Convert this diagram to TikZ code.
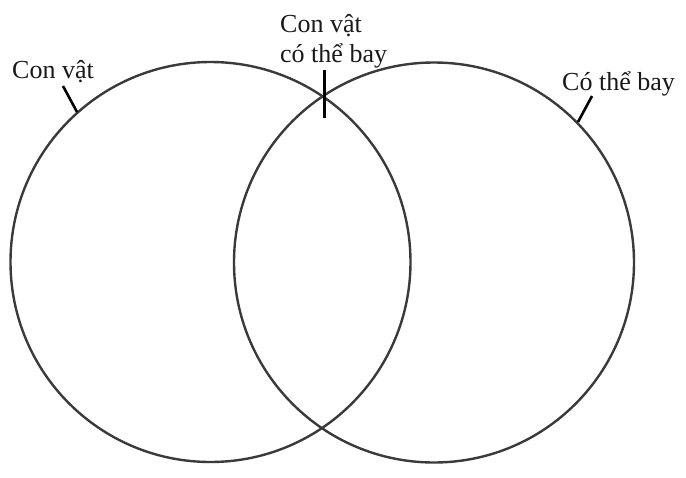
\documentclass[tikz,border=0pt]{standalone}
\usepackage{fontspec}
\setmainfont{Liberation Serif}
\definecolor{ring}{HTML}{3A3A3A}
\tikzset{
  vennring/.style={draw=ring, line width=2.4pt},
  tickline/.style={draw=black, line width=2.6pt},
  lbl/.style={inner sep=0pt, anchor=base west, font=\fontsize{26}{30}\selectfont, text=black!90}
}
\begin{document}
\begin{tikzpicture}[x=1pt,y=-1pt]
\useasboundingbox (0,0) rectangle (686,477);
% circles
\draw[vennring] (210.5,262) circle[radius=200];
\draw[vennring] (434,262.5) circle[radius=200];
% labels
\node[lbl] (animal) at (12,78) {Con vật};
\node[lbl] (both1) at (280,32) {Con vật};
\node[lbl] (both2) at (280,62) {có thể bay};
\node[lbl] (fly) at (562,90) {Có thể bay};
% ticks
\coordinate (la) at (63,86);
\coordinate (lb) at (77,112);
\coordinate (ma) at (324.5,70);
\coordinate (mb) at (324.5,118);
\coordinate (ra) at (592,96);
\coordinate (rb) at (578,122);
\draw[tickline] (la) -- (lb);
\draw[tickline] (ma) -- (mb);
\draw[tickline] (ra) -- (rb);
\end{tikzpicture}
\end{document}
